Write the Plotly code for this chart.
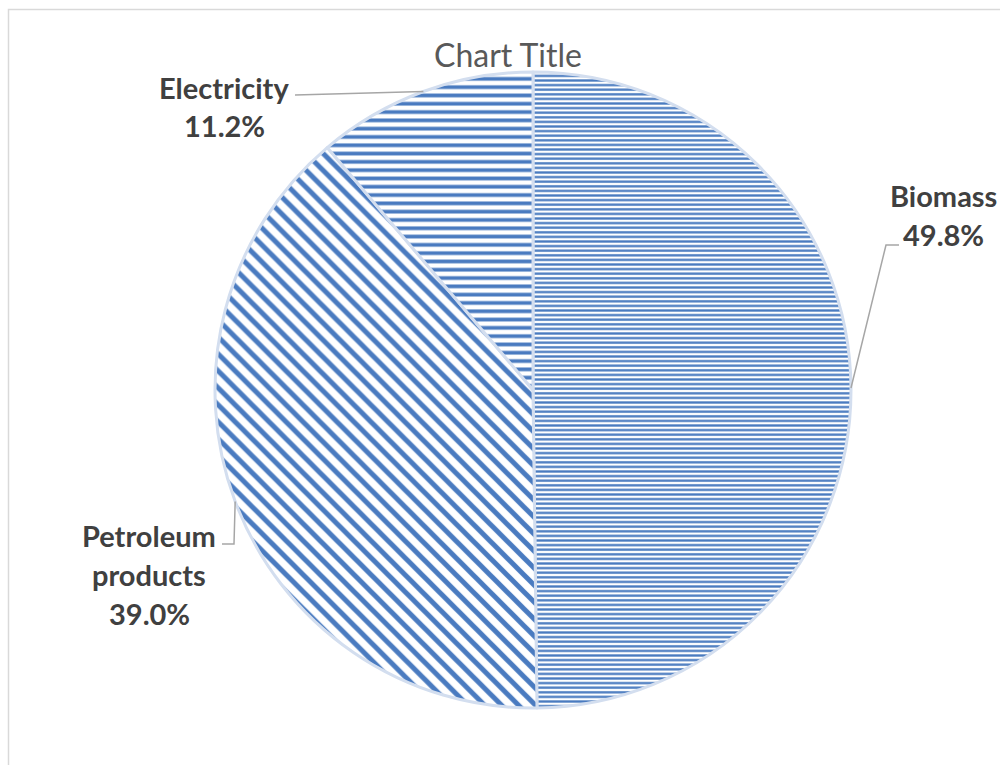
import math
import plotly.graph_objects as go

# Energy share by source
labels = ["Biomass", "Petroleum products", "Electricity"]
shares = [49.8, 39.0, 11.2]
label_lines = [["Biomass"], ["Petroleum", "products"], ["Electricity"]]

W, H = 1000, 765
CX, CY, R = 533, 390, 318          # pie centre and radius in pixels

def px(x):
    return x / W

def py(y):
    return 1 - y / H

BLUE = "#4a7bc0"
patterns = [
    dict(shape="-", size=4.6, solidity=0.5),
    dict(shape="\\", size=12, solidity=0.42),
    dict(shape="-", size=8.3, solidity=0.45),
]

fig = go.Figure(go.Pie(
    labels=labels,
    values=shares,
    sort=False,
    direction="clockwise",
    rotation=0,
    textinfo="none",
    hoverinfo="label+percent",
    marker=dict(
        colors=["white"] * 3,
        pattern=dict(
            shape=[p["shape"] for p in patterns],
            size=[p["size"] for p in patterns],
            solidity=[p["solidity"] for p in patterns],
            fgcolor=BLUE,
            bgcolor="white",
            fillmode="replace",
        ),
        line=dict(color="#d3deef", width=3),
    ),
    domain=dict(x=[px(CX - R), px(CX + R)], y=[py(CY + R), py(CY - R)]),
    showlegend=False,
))

# Arc point at the middle of each slice (clockwise from 12 o'clock)
total = sum(shares)
mids = []
acc = 0.0
for v in shares:
    theta = 2 * math.pi * (acc + v / 2) / total
    mids.append((CX + R * math.sin(theta), CY - R * math.cos(theta)))
    acc += v

# Label blocks: centre x, first-line y, and leader-line elbow points
label_pos = [
    dict(x=943, y=195, elbow=[(886, 245), (899, 245)]),
    dict(x=149, y=535, elbow=[(234, 544), (222, 544)]),
    dict(x=224, y=87, elbow=[(295, 95)]),
]

annotations = []
shapes = []
LINE_GAP = 39
for i, (name_lines, v, pos) in enumerate(zip(label_lines, shares, label_pos)):
    lines = name_lines + [f"{v:.1f}%"]
    for k, t in enumerate(lines):
        annotations.append(dict(
            x=px(pos["x"]), y=py(pos["y"] + k * LINE_GAP),
            xref="paper", yref="paper", xanchor="center", yanchor="middle",
            text=f"<b>{t}</b>", showarrow=False,
            font=dict(family="Lato", size=29, color="#404040"),
        ))
    pts = [mids[i]] + pos["elbow"]
    path = "M " + " L ".join(f"{px(a):.5f},{py(b):.5f}" for a, b in pts)
    shapes.append(dict(type="path", xref="paper", yref="paper", path=path,
                       line=dict(color="#a6a6a6", width=1.5)))

# Title
annotations.append(dict(
    x=px(508), y=py(55), xref="paper", yref="paper", xanchor="center", yanchor="middle",
    text="Chart Title", showarrow=False,
    font=dict(family="Lato", size=32, color="#595959"),
))

# Chart-area frame
shapes.append(dict(type="rect", xref="paper", yref="paper",
                   x0=px(8.5), x1=1.05, y0=-0.05, y1=py(9.5),
                   line=dict(color="#d9d9d9", width=1.5), fillcolor="rgba(0,0,0,0)",
                   layer="below"))

fig.update_layout(
    width=W, height=H,
    margin=dict(l=0, r=0, t=0, b=0),
    paper_bgcolor="white",
    plot_bgcolor="white",
    annotations=annotations,
    shapes=shapes,
)

fig.write_html("out.html")
